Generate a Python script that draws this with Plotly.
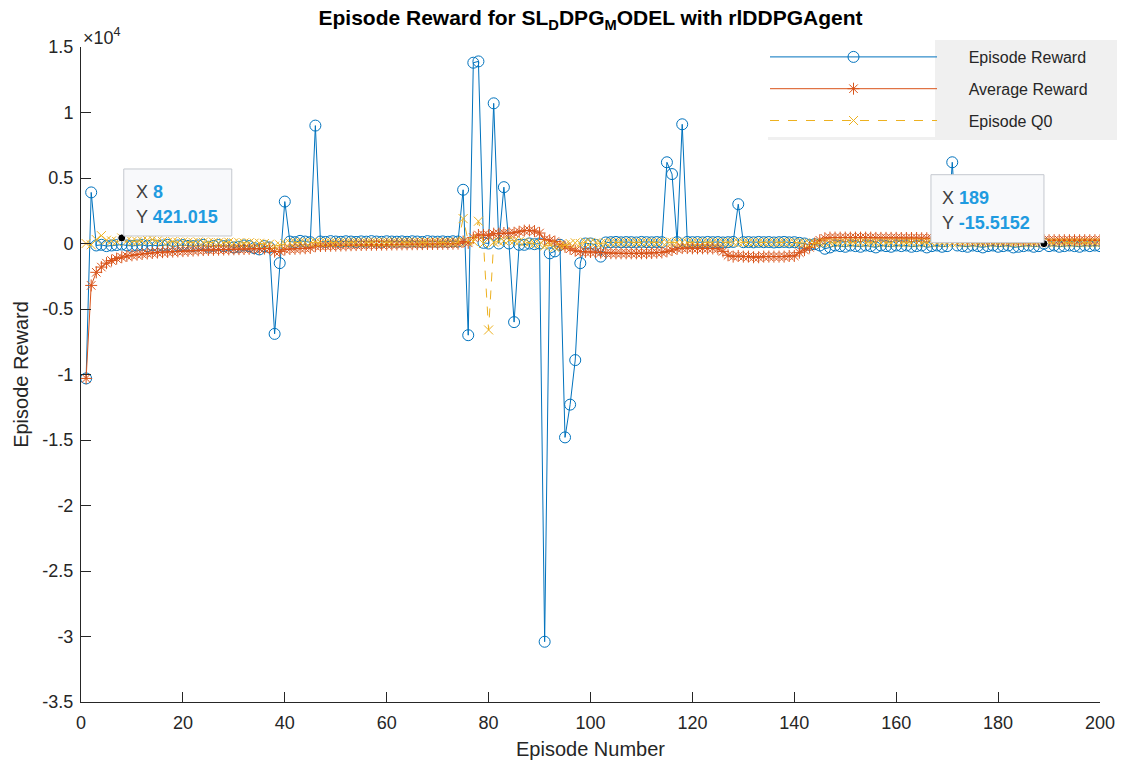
import plotly.graph_objects as go

episodes = list(range(1, 201))

episode_reward = [
    -10300, 3900, -150, -100, -200, -150, -120, -80, -150, -180,
    -150, -100, -200, -120, -180, -150, -100, -250, -150, -120,
    -180, -200, -150, -100, -250, -180, -120, -200, -150, -300,
    -250, -150, -200, -350, -450, -200, -300, -6900, -1500, 3200,
    150, 100, 200, 150, 100, 9000, 150, 120, 180, 150,
    130, 170, 150, 120, 160, 140, 180, 150, 130, 170,
    150, 140, 160, 130, 170, 150, 120, 180, 150, 140,
    160, 130, 170, 150, 4100, -7000, 13800, 13900, 50, 0,
    10700, 0, 4300, 0, -6000, -100, -100, 0, -50, 0,
    -30400, -750, -600, -100, -14800, -12300, -8900, -1500, 0, 0,
    -100, -1000, 80, 100, 120, 90, 110, 100, 80, 120,
    100, 90, 110, 100, 6200, 5300, 100, 9100, 120, 100,
    110, 90, 120, 100, 110, 80, 100, 120, 3000, 100,
    110, 90, 120, 100, 110, 80, 100, 120, 90, 100,
    50, 0, -100, -50, -150, -400, -300, -150, -200, -250,
    -150, -200, -250, -150, -200, -300, -150, -200, -250, -150,
    -200, -150, -250, -200, -150, -300, -200, -150, -250, -200,
    6200, -150, -200, -250, -150, -200, -300, -200, -150, -250,
    -200, -150, -300, -250, -200, -150, -250, -200, -15.5152, -200,
    -150, -250, -200, -150, -200, -250, -150, -200, -150, -200,
]

average_reward = [
    -10300, -3200, -2200, -1800, -1500, -1300, -1150, -1050, -950, -900,
    -850, -800, -760, -720, -690, -660, -640, -620, -600, -580,
    -560, -540, -520, -500, -490, -480, -470, -460, -450, -440,
    -430, -420, -410, -400, -400, -390, -380, -620, -600, -450,
    -420, -400, -380, -360, -340, -200, -190, -180, -170, -160,
    -150, -140, -130, -120, -110, -100, -95, -90, -85, -80,
    -75, -70, -65, -60, -55, -50, -45, -40, -35, -30,
    -25, -20, -15, -10, 150, 50, 450, 650, 650, 620,
    750, 750, 800, 780, 820, 900, 980, 1000, 950, 800,
    300, 250, 150, -100, -250, -400, -550, -620, -640, -650,
    -650, -700, -720, -740, -750, -750, -750, -750, -750, -750,
    -740, -730, -700, -680, -600, -500, -400, -350, -350, -370,
    -370, -370, -380, -380, -400, -600, -900, -1000, -950, -1000,
    -1000, -1050, -1050, -1000, -1000, -1000, -1000, -1000, -950, -950,
    -700, -500, -300, 0, 250, 400, 450, 450, 450, 450,
    450, 450, 450, 450, 450, 430, 430, 430, 430, 430,
    420, 420, 420, 420, 400, 400, 400, 400, 380, 380,
    350, 320, 300, 300, 280, 280, 280, 270, 270, 270,
    270, 270, 260, 260, 260, 260, 260, 250, 250, 250,
    250, 250, 250, 250, 250, 250, 250, 250, 250, 250,
]

episode_q0 = [
    0, -100, 300, 600, 250, 200, 150, 421.015, 200, 150,
    150, 200, 250, 300, 200, 150, 100, 150, 100, 120,
    100, 80, 120, 100, 80, 100, 60, 80, 100, 50,
    60, 40, 50, 30, 20, 0, -50, -200, -100, 0,
    50, 80, 100, 80, 60, 100, 80, 100, 80, 90,
    100, 80, 90, 100, 80, 90, 100, 80, 90, 100,
    80, 90, 100, 80, 90, 100, 80, 90, 100, 80,
    90, 100, 80, 90, 1900, 200, 150, 1700, 0, -6600,
    100, 150, 200, 250, 200, 150, 100, 50, 0, -50,
    -200, -100, -300, -200, -100, 0, 50, 0, 100, 80,
    50, 0, 50, 80, 100, 90, 80, 100, 90, 80,
    100, 90, 80, 100, 90, 80, 100, 90, 80, 100,
    90, 80, 100, 90, 80, 100, 90, 80, 100, 90,
    80, 100, 90, 80, 100, 90, 80, 100, 90, 80,
    50, 30, 0, 20, 50, 60, 50, 60, 50, 60,
    50, 60, 50, 60, 50, 60, 50, 60, 50, 60,
    50, 60, 50, 60, 50, 60, 50, 60, 50, 60,
    50, 60, 50, 60, 50, 60, 50, 60, 50, 60,
    50, 60, 50, 60, 50, 60, 50, 60, 50, 60,
    50, 60, 50, 60, 50, 60, 50, 60, 50, 60,
]

x_ticks = [0, 20, 40, 60, 80, 100, 120, 140, 160, 180, 200]
y_tick_vals = [15000, 10000, 5000, 0, -5000, -10000, -15000, -20000, -25000, -30000, -35000]
y_tick_text = ["1.5", "1", "0.5", "0", "-0.5", "-1", "-1.5", "-2", "-2.5", "-3", "-3.5"]

tip_episodes = [8, 189]
tip_values = [episode_q0[7], episode_reward[188]]
tip_labels = ["421.015", "-15.5152"]

BLUE = "#0072BD"
ORANGE = "#D95319"
YELLOW = "#EDB120"
AX = "#262626"
FONT = "Liberation Sans, Arial, sans-serif"
PAD = "\u00a0" * 6

# plot area in pixels (for paper-coordinate conversions of decorations)
PL, PR, PT, PB = 81, 1100, 47, 702
def px(x):
    return (x - PL) / (PR - PL)
def py(y):
    return (PB - y) / (PB - PT)

fig = go.Figure()
fig.add_trace(go.Scatter(
    x=episodes, y=episode_reward, mode="lines+markers", name=PAD + "Episode Reward",
    line=dict(color=BLUE, width=1),
    marker=dict(symbol="circle-open", size=11, color=BLUE, line=dict(width=1)),
    legendgroup="a",
))
fig.add_trace(go.Scatter(
    x=episodes, y=average_reward, mode="lines+markers", name=PAD + "Average Reward",
    line=dict(color=ORANGE, width=1),
    marker=dict(symbol="asterisk-open", size=10, color=ORANGE, line=dict(width=1, color=ORANGE)),
    legendgroup="b",
))
fig.add_trace(go.Scatter(
    x=episodes, y=episode_q0, mode="lines+markers", name=PAD + "Episode Q0",
    line=dict(color=YELLOW, width=1, dash="dash"),
    marker=dict(symbol="x-thin-open", size=9, color=YELLOW, line=dict(width=1, color=YELLOW)),
    legendgroup="c",
))
fig.add_trace(go.Scatter(
    x=tip_episodes, y=tip_values, mode="markers", showlegend=False,
    marker=dict(symbol="circle", size=8, color="black", line=dict(width=1, color="white")),
))

shapes = []
annotations = []
box_specs = [(2, 110, 2, 69), (-113, 0, 1, 69)]
for ep, val, (x0, x1, y0, y1) in zip(tip_episodes, tip_values, box_specs):
    shapes.append(dict(
        type="rect", xref="x", yref="y", xsizemode="pixel", ysizemode="pixel",
        xanchor=ep, yanchor=val, x0=x0, x1=x1, y0=y0, y1=y1,
        fillcolor="#f8f9fb", line=dict(color="#c4c8cf", width=1), layer="above",
    ))
tip_xshift = [12, -104]
for ep, val, lab, xs in zip(tip_episodes, tip_values, tip_labels, tip_xshift):
    annotations.append(dict(
        x=ep, y=val, xref="x", yref="y", xanchor="left", yanchor="middle",
        xshift=xs, yshift=46, showarrow=False,
        text=f"X <b><span style='color:#1f9be0'>{ep}</span></b>",
        font=dict(family=FONT, size=18, color="#404040"),
    ))
    annotations.append(dict(
        x=ep, y=val, xref="x", yref="y", xanchor="left", yanchor="middle",
        xshift=xs, yshift=21, showarrow=False,
        text=f"Y <b><span style='color:#1f9be0'>{lab}</span></b>",
        font=dict(family=FONT, size=18, color="#404040"),
    ))

# legend background (grey text area, white sample area)
shapes.append(dict(type="rect", xref="paper", yref="paper",
                   x0=px(768), x1=px(1117), y0=py(140), y1=py(40),
                   fillcolor="#f0f0f0", line=dict(width=0), layer="above"))
shapes.append(dict(type="rect", xref="paper", yref="paper",
                   x0=px(768), x1=px(935), y0=py(137), y1=py(40),
                   fillcolor="white", line=dict(width=0), layer="above"))

annotations.append(dict(
    x=0, y=1, xref="paper", yref="paper", xanchor="left", yanchor="bottom",
    xshift=0, yshift=-3, showarrow=False, text="×10<sup>4</sup>",
    font=dict(family=FONT, size=18, color=AX),
))

fig.update_layout(
    width=1125, height=762,
    margin=dict(l=PL, r=1125 - PR, t=PT, b=762 - PB, autoexpand=False),
    paper_bgcolor="white", plot_bgcolor="white",
    font=dict(family=FONT, size=18, color=AX),
    title=dict(
        text="<b>Episode Reward for SL<sub>D</sub>DPG<sub>M</sub>ODEL with rlDDPGAgent</b>",
        x=(PL + PR) / 2 / 1125, xanchor="center", xref="container",
        y=1 - 18 / 762, yanchor="middle", yref="container",
        font=dict(family=FONT, size=21, color="black"),
    ),
    xaxis=dict(
        range=[0, 200], tickvals=x_ticks, ticks="inside", ticklen=10, tickcolor=AX,
        showline=True, linecolor=AX, linewidth=1, showgrid=False, zeroline=False,
        tickfont=dict(size=18, color=AX), automargin=False, ticklabelstandoff=4,
        title=dict(text="Episode Number", font=dict(size=20, color=AX), standoff=10),
    ),
    yaxis=dict(
        range=[-35000, 15000], tickvals=y_tick_vals, ticktext=y_tick_text,
        ticks="inside", ticklen=10, tickcolor=AX, automargin=False, ticklabelstandoff=3,
        showline=True, linecolor=AX, linewidth=1, showgrid=False, zeroline=False,
        tickfont=dict(size=18, color=AX),
        title=dict(text="Episode Reward", font=dict(size=20, color=AX), standoff=8),
    ),
    legend=dict(
        x=px(765), y=py(40), xanchor="left", yanchor="top",
        bgcolor="rgba(0,0,0,0)", borderwidth=0,
        font=dict(family=FONT, size=16, color=AX),
        itemwidth=167, tracegroupgap=8,
    ),
    shapes=shapes,
    annotations=annotations,
)

fig.write_html("out.html", config={"displayModeBar": False},
               post_script="document.body.style.margin='0';")
